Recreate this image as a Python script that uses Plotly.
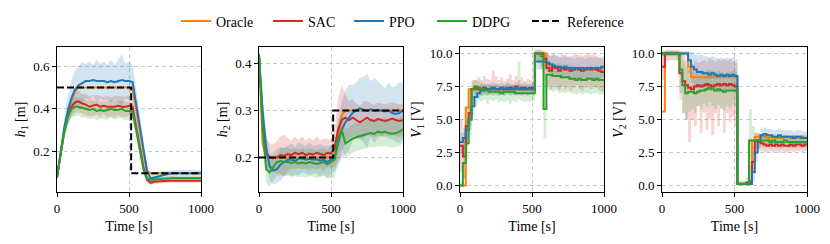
import plotly.graph_objects as go

# ---------------- data ----------------
t_h = list(range(0, 1001, 25))   # 41 samples
t_v = list(range(0, 1001, 20))   # 51 samples

ref_t = [0, 515, 515, 1000]
ref_h1 = [0.5, 0.5, 0.1, 0.1]
ref_h2 = [0.2, 0.2, 0.3, 0.3]

# h1 [m]
h1_oracle = [0.08, 0.20, 0.30, 0.38, 0.44, 0.48, 0.50, 0.50, 0.50, 0.50,
             0.50, 0.50, 0.50, 0.50, 0.50, 0.50, 0.50, 0.50, 0.50, 0.50,
             0.50, 0.49, 0.39, 0.29, 0.19, 0.11, 0.10, 0.10, 0.10, 0.10,
             0.10, 0.10, 0.10, 0.10, 0.10, 0.10, 0.10, 0.10, 0.10, 0.10, 0.10]
h1_sac = [0.08, 0.19, 0.30, 0.37, 0.41, 0.43, 0.435, 0.425, 0.42, 0.41,
          0.415, 0.42, 0.41, 0.415, 0.41, 0.41, 0.41, 0.415, 0.41, 0.41,
          0.415, 0.41, 0.32, 0.22, 0.13, 0.07, 0.055, 0.06, 0.062, 0.064,
          0.065, 0.065, 0.065, 0.065, 0.065, 0.065, 0.065, 0.065, 0.065, 0.065, 0.065]
h1_ppo = [0.08, 0.20, 0.31, 0.39, 0.45, 0.49, 0.51, 0.52, 0.53, 0.53,
          0.535, 0.53, 0.53, 0.53, 0.525, 0.53, 0.525, 0.53, 0.535, 0.53,
          0.53, 0.525, 0.42, 0.31, 0.20, 0.11, 0.075, 0.08, 0.085, 0.09,
          0.095, 0.097, 0.10, 0.10, 0.10, 0.10, 0.10, 0.10, 0.10, 0.10, 0.10]
h1_ddpg = [0.08, 0.18, 0.29, 0.36, 0.40, 0.41, 0.41, 0.405, 0.40, 0.395,
           0.40, 0.39, 0.395, 0.39, 0.395, 0.40, 0.395, 0.395, 0.40, 0.39,
           0.39, 0.385, 0.30, 0.20, 0.12, 0.075, 0.068, 0.07, 0.072, 0.074,
           0.075, 0.076, 0.077, 0.077, 0.077, 0.077, 0.077, 0.077, 0.077, 0.077, 0.077]
h1_sac_sd = [0.01, 0.02, 0.03, 0.04, 0.045, 0.05, 0.05, 0.045, 0.05, 0.045,
             0.05, 0.045, 0.05, 0.04, 0.05, 0.045, 0.05, 0.045, 0.05, 0.045,
             0.05, 0.045, 0.04, 0.035, 0.03, 0.015, 0.01, 0.01, 0.01, 0.01,
             0.01, 0.01, 0.01, 0.01, 0.01, 0.01, 0.01, 0.01, 0.01, 0.01, 0.01]
h1_ppo_sd = [0.01, 0.03, 0.05, 0.07, 0.08, 0.09, 0.09, 0.10, 0.08, 0.09,
             0.07, 0.10, 0.08, 0.09, 0.08, 0.10, 0.08, 0.10, 0.12, 0.08,
             0.09, 0.08, 0.08, 0.07, 0.06, 0.03, 0.02, 0.02, 0.02, 0.02,
             0.015, 0.015, 0.015, 0.015, 0.015, 0.015, 0.015, 0.015, 0.015, 0.015, 0.015]
h1_ddpg_sd = [0.01, 0.02, 0.03, 0.04, 0.04, 0.045, 0.04, 0.045, 0.04, 0.045,
              0.04, 0.045, 0.04, 0.04, 0.045, 0.04, 0.045, 0.04, 0.04, 0.045,
              0.04, 0.04, 0.035, 0.03, 0.025, 0.015, 0.01, 0.01, 0.01, 0.01,
              0.01, 0.01, 0.01, 0.01, 0.01, 0.01, 0.01, 0.01, 0.01, 0.01, 0.01]

# h2 [m]
h2_oracle = [0.42, 0.23, 0.20, 0.20, 0.20, 0.20, 0.20, 0.20, 0.20, 0.20,
             0.20, 0.20, 0.20, 0.20, 0.20, 0.20, 0.20, 0.20, 0.20, 0.20,
             0.20, 0.20, 0.24, 0.29, 0.30, 0.30, 0.30, 0.30, 0.30, 0.30,
             0.30, 0.30, 0.30, 0.30, 0.30, 0.30, 0.30, 0.30, 0.30, 0.30, 0.30]
h2_sac = [0.42, 0.28, 0.21, 0.20, 0.198, 0.20, 0.205, 0.203, 0.207, 0.205,
          0.21, 0.207, 0.21, 0.205, 0.208, 0.206, 0.21, 0.207, 0.205, 0.21,
          0.208, 0.22, 0.26, 0.28, 0.285, 0.28, 0.285, 0.28, 0.275, 0.28,
          0.285, 0.28, 0.278, 0.282, 0.28, 0.278, 0.28, 0.283, 0.28, 0.278, 0.28]
h2_ppo = [0.42, 0.30, 0.22, 0.18, 0.172, 0.175, 0.185, 0.19, 0.195, 0.195,
          0.193, 0.197, 0.198, 0.195, 0.197, 0.195, 0.196, 0.193, 0.195, 0.19,
          0.195, 0.20, 0.23, 0.26, 0.275, 0.285, 0.295, 0.30, 0.305, 0.302,
          0.30, 0.303, 0.30, 0.302, 0.30, 0.298, 0.30, 0.295, 0.293, 0.295, 0.30]
h2_ddpg = [0.42, 0.26, 0.175, 0.168, 0.18, 0.19, 0.192, 0.19, 0.19, 0.188,
           0.19, 0.187, 0.189, 0.187, 0.19, 0.188, 0.186, 0.188, 0.19, 0.185,
           0.19, 0.195, 0.24, 0.258, 0.23, 0.236, 0.24, 0.243, 0.245, 0.248,
           0.25, 0.252, 0.25, 0.255, 0.253, 0.255, 0.252, 0.25, 0.252, 0.255, 0.26]
h2_sac_sd = [0.01, 0.03, 0.03, 0.03, 0.03, 0.035, 0.04, 0.045, 0.035, 0.03,
             0.035, 0.03, 0.035, 0.03, 0.035, 0.03, 0.035, 0.03, 0.035, 0.03,
             0.03, 0.04, 0.07, 0.075, 0.05, 0.04, 0.04, 0.035, 0.035, 0.04,
             0.035, 0.035, 0.035, 0.035, 0.035, 0.035, 0.035, 0.035, 0.035, 0.035, 0.035]
h2_ppo_sd = [0.01, 0.03, 0.035, 0.03, 0.03, 0.03, 0.035, 0.03, 0.03, 0.035,
             0.03, 0.035, 0.03, 0.03, 0.035, 0.03, 0.03, 0.035, 0.03, 0.035,
             0.03, 0.03, 0.05, 0.06, 0.07, 0.07, 0.06, 0.06, 0.065, 0.07,
             0.08, 0.06, 0.07, 0.06, 0.055, 0.05, 0.06, 0.055, 0.06, 0.065, 0.06]
h2_ddpg_sd = [0.01, 0.03, 0.03, 0.03, 0.03, 0.03, 0.03, 0.03, 0.03, 0.03,
              0.03, 0.03, 0.03, 0.03, 0.03, 0.03, 0.03, 0.03, 0.03, 0.03,
              0.035, 0.04, 0.04, 0.035, 0.03, 0.03, 0.03, 0.03, 0.03, 0.03,
              0.03, 0.03, 0.03, 0.03, 0.03, 0.03, 0.03, 0.03, 0.03, 0.03, 0.03]

# V1 [V]
v1_oracle = [0.0, 0.0, 5.9, 7.3, 7.3, 7.3, 7.3, 7.3, 7.3, 7.3,
             7.3, 7.3, 7.3, 7.3, 7.3, 7.3, 7.3, 7.3, 7.3, 7.3,
             7.3, 7.3, 7.3, 7.3, 7.3, 7.3, 10.0, 10.0, 10.0, 10.0,
             9.2, 8.9, 8.9, 8.9, 8.8, 8.9, 8.9, 8.8, 8.9, 8.9,
             8.9, 8.8, 8.9, 8.9, 8.8, 8.9, 8.9, 8.8, 8.9, 8.9, 8.9]
v1_sac = [3.0, 2.2, 4.5, 5.5, 7.3, 7.4, 7.3, 7.3, 7.4, 7.3,
          7.3, 7.4, 7.3, 7.3, 7.4, 7.3, 7.3, 7.4, 7.3, 7.5,
          7.3, 7.4, 7.3, 7.3, 7.4, 7.3, 10.0, 10.0, 10.0, 9.6,
          8.9, 8.7, 9.0, 8.9, 8.7, 8.9, 8.8, 8.9, 8.7, 8.8,
          8.9, 8.8, 8.7, 8.8, 8.9, 8.8, 8.9, 8.8, 8.7, 8.6, 8.6]
v1_ppo = [3.3, 3.6, 4.2, 5.0, 6.0, 6.7, 7.0, 7.2, 7.3, 7.3,
          7.3, 7.4, 7.3, 7.3, 7.4, 7.3, 7.4, 7.3, 7.3, 7.4,
          7.3, 7.3, 7.4, 7.3, 7.3, 7.4, 9.4, 9.4, 9.4, 9.4,
          9.3, 9.2, 9.1, 9.0, 9.0, 8.9, 9.0, 8.9, 8.9, 8.8,
          8.9, 8.9, 8.9, 8.8, 8.9, 8.9, 8.9, 8.9, 8.9, 9.0, 9.0]
v1_ddpg = [0.0, 1.7, 3.2, 5.0, 7.3, 7.5, 7.4, 7.3, 7.2, 7.2,
           7.1, 7.1, 7.1, 7.1, 7.0, 7.1, 7.1, 7.1, 7.1, 7.0,
           7.0, 7.0, 7.0, 7.0, 7.0, 7.0, 10.0, 10.0, 9.8, 5.8,
           8.4, 8.4, 8.3, 8.3, 8.3, 8.2, 8.2, 8.2, 8.1, 8.1,
           8.0, 8.1, 8.0, 8.0, 8.1, 8.1, 8.0, 8.1, 8.0, 8.0, 8.0]
v1_sac_lo = [1.0, 0.5, 3.0, 4.5, 6.5, 6.8, 6.9, 6.8, 6.9, 6.8,
             6.9, 6.8, 6.9, 6.8, 6.9, 6.8, 6.9, 6.8, 6.9, 6.8,
             6.9, 6.8, 6.9, 6.8, 6.9, 6.8, 9.5, 9.3, 8.8, 8.0,
             7.5, 7.3, 7.6, 7.4, 7.2, 7.5, 7.3, 7.6, 7.2, 7.4,
             7.6, 7.3, 7.2, 7.4, 7.6, 7.3, 7.5, 7.4, 7.2, 7.1, 7.1]
v1_sac_hi = [5.0, 4.0, 6.0, 7.0, 8.0, 8.0, 8.2, 8.0, 8.3, 8.1,
             8.0, 8.7, 8.3, 8.0, 8.2, 7.9, 8.1, 8.4, 8.0, 8.3,
             8.0, 8.2, 7.9, 8.1, 8.0, 7.9, 10.3, 10.3, 10.3, 10.2,
             10.0, 9.8, 10.0, 9.9, 9.7, 10.0, 9.9, 9.8, 9.8, 9.9,
             10.0, 9.9, 9.8, 9.9, 10.0, 9.9, 10.0, 9.8, 9.7, 9.6, 9.6]
v1_ppo_lo = [2.5, 2.8, 3.4, 4.2, 5.2, 6.0, 6.5, 6.8, 6.9, 6.9,
             6.9, 7.0, 6.9, 6.9, 7.0, 6.9, 7.0, 6.9, 6.9, 7.0,
             6.9, 6.9, 7.0, 6.9, 6.9, 7.0, 8.8, 8.8, 8.8, 8.7,
             8.6, 8.4, 8.3, 8.2, 8.2, 8.1, 8.2, 8.1, 8.1, 8.0,
             8.1, 8.1, 8.1, 8.0, 8.1, 8.1, 8.1, 8.1, 8.1, 8.2, 8.2]
v1_ppo_hi = [4.0, 4.4, 5.0, 5.8, 6.8, 7.4, 7.6, 7.7, 7.7, 7.7,
             7.7, 7.8, 7.7, 7.7, 7.8, 7.7, 7.8, 7.7, 7.7, 7.8,
             7.7, 7.7, 7.8, 7.7, 7.7, 7.8, 10.0, 10.0, 10.0, 10.0,
             10.0, 9.9, 9.9, 9.8, 9.8, 9.7, 9.8, 9.7, 9.7, 9.6,
             9.7, 9.7, 9.7, 9.6, 9.7, 9.7, 9.7, 9.7, 9.7, 9.8, 9.8]
v1_ddpg_lo = [0.0, 0.5, 2.0, 3.8, 6.5, 6.8, 6.6, 6.4, 6.5, 6.2,
              6.5, 6.4, 6.5, 6.3, 6.4, 6.3, 6.4, 6.2, 6.4, 6.3,
              6.5, 6.4, 6.3, 6.4, 6.3, 6.4, 9.5, 9.4, 9.0, 3.5,
              7.3, 7.2, 7.1, 7.2, 7.0, 7.1, 7.0, 7.1, 7.0, 7.0,
              6.9, 7.0, 6.9, 7.0, 7.0, 6.9, 7.0, 7.0, 6.9, 6.9, 6.9]
v1_ddpg_hi = [0.3, 3.0, 4.5, 6.2, 7.9, 8.0, 7.9, 7.8, 7.7, 7.6,
              7.6, 7.6, 7.7, 7.6, 7.5, 7.6, 7.7, 7.6, 7.6, 7.5,
              9.4, 7.6, 7.5, 7.6, 7.5, 7.5, 10.3, 10.3, 10.2, 8.5,
              9.4, 9.3, 9.3, 9.2, 9.3, 9.1, 9.2, 9.2, 9.1, 9.1,
              9.0, 9.1, 9.0, 9.0, 9.1, 9.1, 9.0, 9.1, 9.0, 9.0, 9.0]

# V2 [V]
v2_oracle = [5.6, 10.0, 10.0, 10.0, 10.0, 10.0, 10.0, 10.0, 10.0, 9.0,
             8.2, 8.2, 8.2, 8.2, 8.2, 8.2, 8.2, 8.2, 8.2, 8.2,
             8.2, 8.2, 8.2, 8.2, 8.2, 8.2, 0.1, 0.1, 0.1, 0.1,
             0.1, 3.4, 3.7, 3.7, 3.7, 3.7, 3.6, 3.7, 3.7, 3.6,
             3.7, 3.6, 3.7, 3.7, 3.6, 3.7, 3.7, 3.6, 3.7, 3.6, 3.6]
v2_sac = [9.0, 10.0, 10.0, 10.0, 10.0, 10.0, 8.5, 7.9, 7.6, 7.4,
          7.3, 7.5, 7.6, 7.5, 7.6, 7.7, 7.6, 7.5, 7.6, 7.7,
          7.6, 7.7, 7.6, 7.7, 7.6, 7.5, 0.1, 0.1, 0.1, 0.2,
          0.3, 1.8, 3.4, 3.3, 3.2, 3.1, 3.0, 3.1, 3.0, 3.1,
          3.0, 3.1, 3.0, 3.0, 3.1, 3.0, 3.1, 3.1, 3.0, 3.1, 3.1]
v2_ppo = [10.0, 10.0, 10.0, 10.0, 10.0, 10.0, 10.0, 10.0, 10.0, 9.5,
          9.0, 8.8, 8.6, 8.6, 8.5, 8.5, 8.4, 8.5, 8.4, 8.3,
          8.4, 8.3, 8.4, 8.3, 8.4, 8.3, 0.1, 0.1, 0.1, 0.1,
          0.1, 1.0, 2.5, 3.4, 3.8, 3.9, 3.8, 3.8, 3.7, 3.7,
          3.8, 3.7, 3.7, 3.7, 3.7, 3.6, 3.7, 3.7, 3.6, 3.6, 3.6]
v2_ddpg = [10.0, 10.0, 10.0, 10.0, 10.0, 10.0, 8.8, 7.6, 7.0, 7.1,
           7.1, 7.0, 7.1, 7.2, 7.2, 7.3, 7.4, 7.3, 7.2, 7.3,
           7.2, 7.1, 7.2, 7.2, 7.2, 7.2, 0.1, 0.1, 0.1, 0.1,
           3.4, 3.4, 3.4, 3.4, 3.4, 3.4, 3.4, 3.3, 3.4, 3.3,
           3.3, 3.3, 3.4, 3.3, 3.3, 3.3, 3.3, 3.3, 3.3, 3.3, 3.3]
v2_sac_lo = [8.0, 9.5, 9.5, 9.5, 9.5, 9.5, 7.0, 5.5, 5.0, 3.3,
             5.0, 4.5, 6.0, 4.0, 5.5, 4.2, 5.0, 3.8, 5.5, 4.5,
             5.8, 4.0, 5.5, 4.8, 5.2, 4.5, 0.0, 0.0, 0.0, 0.0,
             0.0, 1.0, 2.7, 2.6, 2.6, 2.5, 2.5, 2.6, 2.5, 2.6,
             2.5, 2.6, 2.5, 2.5, 2.6, 2.5, 2.6, 2.6, 2.5, 2.6, 2.6]
v2_sac_hi = [10.0, 10.3, 10.3, 10.3, 10.3, 10.3, 10.0, 9.8, 9.5, 9.0,
             9.2, 9.5, 9.3, 9.4, 9.5, 9.4, 9.6, 9.5, 9.4, 9.6,
             9.5, 9.6, 9.5, 9.6, 9.4, 9.3, 0.3, 0.3, 0.3, 0.6,
             1.5, 3.0, 4.0, 3.9, 3.8, 3.7, 3.6, 3.7, 3.6, 3.7,
             3.6, 3.7, 3.6, 3.6, 3.7, 3.6, 3.7, 3.7, 3.6, 3.7, 3.7]
v2_ppo_lo = [9.8, 9.8, 9.8, 9.8, 9.8, 9.8, 9.8, 9.8, 9.8, 8.5,
             7.8, 7.6, 7.4, 7.5, 7.3, 7.4, 7.2, 7.4, 7.3, 7.1,
             7.3, 7.2, 7.3, 7.1, 7.3, 7.0, 0.0, 0.0, 0.0, 0.0,
             0.0, 0.3, 1.8, 2.8, 3.3, 3.4, 3.3, 3.3, 3.2, 3.2,
             3.3, 3.2, 3.2, 3.2, 3.2, 3.1, 3.2, 3.2, 3.1, 3.1, 3.1]
v2_ppo_hi = [10.2, 10.2, 10.2, 10.2, 10.2, 10.2, 10.2, 10.2, 10.2, 10.2,
             10.1, 10.0, 9.9, 9.9, 9.8, 9.8, 9.7, 9.8, 9.7, 9.6,
             9.7, 9.6, 9.7, 9.6, 9.7, 9.6, 0.3, 0.3, 0.3, 0.3,
             0.3, 1.8, 3.2, 4.0, 4.3, 4.4, 4.3, 4.3, 4.2, 4.2,
             4.3, 4.2, 4.2, 4.2, 4.2, 4.1, 4.2, 4.2, 4.1, 4.1, 4.1]
v2_ddpg_lo = [9.8, 9.8, 9.8, 9.8, 9.8, 9.5, 6.5, 5.5, 5.0, 5.6,
              5.8, 5.5, 6.0, 5.8, 6.2, 6.0, 6.3, 6.0, 5.8, 6.1,
              5.9, 5.7, 6.0, 5.9, 6.1, 6.0, 0.0, 0.0, 0.0, 0.0,
              2.0, 2.5, 2.8, 2.8, 2.9, 2.8, 2.9, 2.8, 2.9, 2.8,
              2.8, 2.8, 2.9, 2.8, 2.8, 2.8, 2.8, 2.8, 2.8, 2.8, 2.8]
v2_ddpg_hi = [10.2, 10.2, 10.2, 10.2, 10.2, 10.2, 10.0, 9.5, 9.0, 8.8,
              8.6, 8.5, 8.6, 8.7, 8.6, 8.7, 8.8, 8.7, 8.6, 8.7,
              8.6, 8.5, 8.6, 8.6, 8.7, 8.6, 0.3, 0.3, 0.3, 0.3,
              5.8, 4.5, 4.0, 3.9, 3.9, 3.8, 3.9, 3.8, 3.9, 3.8,
              3.8, 3.8, 3.9, 3.8, 3.8, 3.8, 3.8, 3.8, 3.8, 3.8, 3.8]

names = ["Oracle", "SAC", "PPO", "DDPG"]
colors = {"Oracle": "#ff7f0e", "SAC": "#d62728", "PPO": "#1f77b4", "DDPG": "#2ca02c"}
fills = {"SAC": "rgba(214,39,40,0.2)", "PPO": "rgba(31,119,180,0.2)", "DDPG": "rgba(44,160,44,0.2)"}
legend_w = {"Oracle": 47, "SAC": 36, "PPO": 38, "DDPG": 50, "Reference": 60}

# ---------------- figure ----------------
FONT = "Liberation Serif, Times New Roman, serif"
fig = go.Figure()

def add_panel(idx, t, means, bands, shape, ref=None):
    xa = "x" if idx == 1 else f"x{idx}"
    ya = "y" if idx == 1 else f"y{idx}"
    for nm in ["SAC", "PPO", "DDPG"]:
        lo, hi = bands[nm]
        fig.add_trace(go.Scatter(x=t, y=lo, mode="lines", line=dict(width=0, shape=shape),
                                 showlegend=False, hoverinfo="skip", xaxis=xa, yaxis=ya))
        fig.add_trace(go.Scatter(x=t, y=hi, mode="lines", line=dict(width=0, shape=shape),
                                 fill="tonexty", fillcolor=fills[nm],
                                 showlegend=False, hoverinfo="skip", xaxis=xa, yaxis=ya))
    for nm in names:
        fig.add_trace(go.Scatter(x=t, y=means[nm], mode="lines", name=nm,
                                 line=dict(color=colors[nm], width=2, shape=shape),
                                 showlegend=(idx == 1), legendrank=names.index(nm) + 1,
                                 legendwidth=legend_w[nm], xaxis=xa, yaxis=ya))
    if ref is not None:
        fig.add_trace(go.Scatter(x=ref_t, y=ref, mode="lines", name="Reference",
                                 line=dict(color="black", width=2, dash="7px,3px"),
                                 showlegend=(idx == 1), legendrank=5,
                                 legendwidth=legend_w["Reference"], xaxis=xa, yaxis=ya))

def pm(m, s):
    return ([a - b for a, b in zip(m, s)], [a + b for a, b in zip(m, s)])

add_panel(1, t_h,
          {"Oracle": h1_oracle, "SAC": h1_sac, "PPO": h1_ppo, "DDPG": h1_ddpg},
          {"SAC": pm(h1_sac, h1_sac_sd), "PPO": pm(h1_ppo, h1_ppo_sd), "DDPG": pm(h1_ddpg, h1_ddpg_sd)},
          "linear", ref_h1)
add_panel(2, t_h,
          {"Oracle": h2_oracle, "SAC": h2_sac, "PPO": h2_ppo, "DDPG": h2_ddpg},
          {"SAC": pm(h2_sac, h2_sac_sd), "PPO": pm(h2_ppo, h2_ppo_sd), "DDPG": pm(h2_ddpg, h2_ddpg_sd)},
          "linear", ref_h2)
add_panel(3, t_v,
          {"Oracle": v1_oracle, "SAC": v1_sac, "PPO": v1_ppo, "DDPG": v1_ddpg},
          {"SAC": (v1_sac_lo, v1_sac_hi), "PPO": (v1_ppo_lo, v1_ppo_hi), "DDPG": (v1_ddpg_lo, v1_ddpg_hi)},
          "hv")
add_panel(4, t_v,
          {"Oracle": v2_oracle, "SAC": v2_sac, "PPO": v2_ppo, "DDPG": v2_ddpg},
          {"SAC": (v2_sac_lo, v2_sac_hi), "PPO": (v2_ppo_lo, v2_ppo_hi), "DDPG": (v2_ddpg_lo, v2_ddpg_hi)},
          "hv")

W, H = 830, 244
ML, MR, MT, MB = 57, 23, 47, 52
PW = W - ML - MR
px_x = [(57, 201), (259, 403), (460, 604), (662, 807)]
y_ranges = [[0.012, 0.689], [0.126, 0.436], [-0.5, 10.5], [-0.5, 10.5]]
y_ticks = [[0.2, 0.4, 0.6], [0.2, 0.3, 0.4], [0, 2.5, 5, 7.5, 10], [0, 2.5, 5, 7.5, 10]]
y_titles = ["<i>h</i><sub>1</sub> [m]", "<i>h</i><sub>2</sub> [m]",
            "<i>V</i><sub>1</sub> [V]", "<i>V</i><sub>2</sub> [V]"]

axis_common = dict(showline=True, mirror=True, linecolor="black", linewidth=1,
                   ticks="outside", ticklen=4, tickwidth=1, tickcolor="black",
                   showgrid=True, gridcolor="#c8c8c8", gridwidth=1, griddash="4px,3px",
                   zeroline=False, automargin=False,
                   tickfont=dict(family=FONT, size=13, color="black"))
layout = dict(width=W, height=H, margin=dict(l=ML, r=MR, t=MT, b=MB, autoexpand=False),
              plot_bgcolor="white", paper_bgcolor="white",
              font=dict(family=FONT, size=13, color="black"),
              legend=dict(orientation="h", x=(176 - ML) / PW, xanchor="left",
                          yref="container", y=1 - 21.5 / H, yanchor="middle",
                          entrywidthmode="pixels",
                          font=dict(family=FONT, size=14, color="black"),
                          bgcolor="rgba(0,0,0,0)", traceorder="normal", tracegroupgap=0))
for i in range(4):
    k = "" if i == 0 else str(i + 1)
    x0, x1 = px_x[i]
    layout[f"xaxis{k}"] = dict(axis_common, domain=[(x0 - ML) / PW, (x1 - ML) / PW],
                               range=[0, 1000], tickvals=[0, 500, 1000],
                               anchor=f"y{k}",
                               title=dict(text="Time [s]", font=dict(family=FONT, size=14), standoff=6))
    layout[f"yaxis{k}"] = dict(axis_common, domain=[0, 1], range=y_ranges[i],
                               tickvals=y_ticks[i], tickformat=".1f", anchor=f"x{k}",
                               title=dict(text=y_titles[i], font=dict(family=FONT, size=14), standoff=4))
fig.update_layout(**layout)
fig.write_html(
    "out.html",
    config={"displayModeBar": False},
    post_script=("document.body.style.margin='0';document.body.style.padding='0';"
                 "var gd=document.getElementById('{plot_id}');"
                 "gd.style.position='absolute';gd.style.left='0px';gd.style.top='0px';"),
)
